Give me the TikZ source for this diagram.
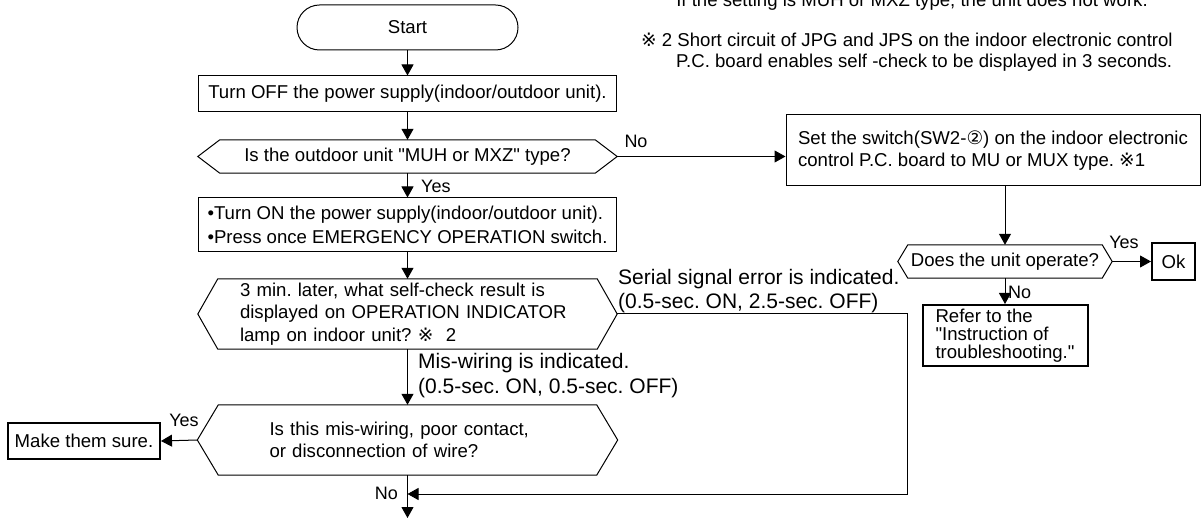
\documentclass[tikz,border=0pt]{standalone}
\usepackage{fontspec}
\setmainfont{Liberation Sans}[Ligatures=TeXOff]
\newfontfamily\symf{DejaVu Sans}
\usetikzlibrary{arrows.meta}
\frenchspacing
\begin{document}
\begin{tikzpicture}[x=1pt, y=-1pt,
  mainf/.style={font=\fontsize{18.6}{22.5}\selectfont},
  ln/.style={line width=1pt},
  arr/.style={line width=1pt, -{Triangle[length=11pt,width=12pt]}},
  pbox/.style={draw, line width=1pt, inner sep=0pt, mainf, align=left},
  tbox/.style={draw, line width=2pt, inner sep=0pt, mainf, align=left},
  hexa/.style={inner sep=0pt, mainf, align=left},
  lbl/.style={inner sep=0pt, font=\fontsize{18}{20}\selectfont, text height=12.9pt, text depth=0pt},
  bigl/.style={inner sep=0pt, font=\fontsize{21}{24.5}\selectfont, align=left, anchor=base west},
]
\useasboundingbox (0,0) rectangle (1202,518);
\clip (0,0) rectangle (1202,518);
\fill[white] (0,0) rectangle (1202,518);

% notes
\node[anchor=base, inner sep=0pt, mainf] (note1) at (912,7) {If the setting is MUH or MXZ type, the unit does not work.};
\node[anchor=base west, inner sep=0pt, align=left, font=\fontsize{18.6}{21}\selectfont] (note2) at (641,68)
  {{\symf ※} 2 Short circuit of JPG and JPS on the indoor electronic control\\\hspace*{35pt}P.C. board enables self -check to be displayed in 3 seconds.};

% main column
\node[pbox, rounded corners=22.5pt, minimum width=221pt, minimum height=45pt] (start) at (407.5,27.5) {Start};
\node[pbox, minimum width=418pt, minimum height=36pt] (off) at (407.5,94) {Turn OFF the power supply(indoor/outdoor unit).};
\node[hexa, minimum width=419pt, minimum height=33pt] (q1) at (407.5,156.5) {Is the outdoor unit "MUH or MXZ" type?};
\node[pbox, minimum width=418pt, minimum height=54pt, font=\fontsize{18.6}{24}\selectfont] (on) at (407.5,225)
  {\textbullet Turn ON the power supply(indoor/outdoor unit).\\\textbullet Press once EMERGENCY OPERATION switch.};
\node[hexa, minimum width=419pt, minimum height=70pt, text width=335pt, inner xsep=42pt] (q3) at (407.5,314)
  {3 min. later, what self-check result is\\displayed on OPERATION INDICATOR\\lamp on indoor unit? {\symf ※}\ \ 2};
\node[hexa, minimum width=420pt, minimum height=70pt, text width=276pt, inner xsep=72pt] (q4) at (407.5,440)
  {Is this mis-wiring, poor contact,\\or disconnection of wire?};
\node[tbox, minimum width=152pt, minimum height=36pt] (sure) at (84,441) {Make them sure.};

% right branch
\node[pbox, minimum width=414pt, minimum height=71pt, font=\fontsize{18.6}{22}\selectfont] (set) at (993,150.5)
  {Set the switch(SW2-{\symf ②}) on the indoor electronic\\control P.C. board to MU or MUX type. {\symf ※}1};
\node[hexa, minimum width=214pt, minimum height=33pt] (q2) at (1005,261.5) {Does the unit operate?};
\node[tbox, minimum width=43pt, minimum height=37pt] (ok) at (1173.5,261.5) {Ok};
\node[tbox, minimum width=165pt, minimum height=61pt, font=\fontsize{18.6}{18}\selectfont] (refer) at (1005,335.5)
  {Refer to the\\"Instruction of\\troubleshooting."};

% hexagon outlines
\foreach \n/\d in {q1/22,q3/20,q4/21,q2/10}{
  \draw[ln] (\n.west) -- ([xshift=\d pt]\n.north west) -- ([xshift=-\d pt]\n.north east) -- (\n.east)
    -- ([xshift=-\d pt]\n.south east) -- ([xshift=\d pt]\n.south west) -- cycle;
}

% connectors
\draw[arr] (start.south) -- (off.north);
\draw[arr] (off.south) -- (q1.north);
\draw[arr] (q1.south) -- (on.north);
\node[lbl, anchor=west] (y1) at (421,186) {Yes};
\draw[arr] (q1.east) -- (set.west |- q1.east);
\node[lbl] (n1) at (636,141) {No};
\draw[arr] (q2.north |- set.south) -- (q2.north);
\draw[arr] (q2.east) -- (ok.west);
\node[lbl] (y2) at (1124,242) {Yes};
\draw[arr] (q2.south) -- (refer.north);
\node[lbl, anchor=west] (n2) at (1008,292) {No};
\draw[arr] (on.south) -- (q3.north);
\draw[arr] (q3.south) -- (q4.north);
\node[bigl] (mis) at (418,393) {Mis-wiring is indicated.\\(0.5-sec. ON, 0.5-sec. OFF)};
\coordinate (sc) at (907,494);
\draw[arr] (q3.east) -| (sc) -- (q4.south |- sc);
\node[bigl] (ser) at (618,309) {Serial signal error is indicated.\\(0.5-sec. ON, 2.5-sec. OFF)};
\draw[arr] (q4.west) -- (sure.east);
\node[lbl] (y3) at (184,420) {Yes};
\coordinate (bot) at (407.5,518);
\draw[arr] (q4.south) -- (bot);
\node[lbl, anchor=east] (n3) at (398,493) {No};
\end{tikzpicture}
\end{document}
